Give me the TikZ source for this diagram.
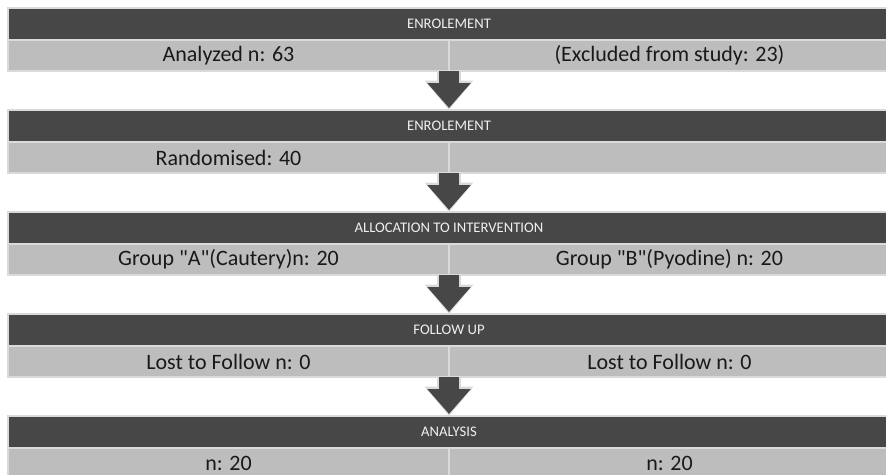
\documentclass[tikz,border=0pt]{standalone}
\usepackage{fontspec}
\setmainfont{Carlito}[Ligatures=TeXOff]
\usepackage{xcolor}
\usepackage{tikz}
\usetikzlibrary{positioning, arrows.meta}
\definecolor{escuro}{HTML}{474747}
\definecolor{claro}{HTML}{BDBDBD}
\definecolor{borda}{HTML}{DADADA}

\begin{document}
\begin{tikzpicture}[
    x=0.75pt, y=-0.75pt,
    every node/.style={outer sep=0pt, inner sep=0pt},
    node distance=52.5pt
  ]
  \tikzset{
    cabecalho/.style={fill=escuro, draw=borda, line width=1.5pt, minimum width=661.5pt, minimum height=24pt,
      text=white!94!black, font=\fontsize{11}{13}\selectfont},
    celula/.style={fill=claro, draw=borda, line width=1.5pt, minimum width=330.75pt, minimum height=23.25pt,
      text=black!90, font=\fontsize{16.5}{19}\selectfont, anchor=north west},
    brilho/.style={draw=borda, line width=18pt, -{Triangle[width=35pt, length=22pt]}},
    seta/.style={draw=escuro, line width=15pt, shorten >=1.5pt, -{Triangle[width=31.5pt, length=18.75pt]}}
  }
  \useasboundingbox (0,0) rectangle (886,475);

  % inscricao
  \node[cabecalho] (h1) at (449,24) {ENROLEMENT};
  \node[celula] (l1) at (h1.south west) {Analyzed n: 63};
  \node[celula] (r1) at (l1.north east) {(Excluded from study: 23)};

  % randomizacao
  \node[cabecalho, below=of h1.south] (h2) {ENROLEMENT};
  \node[celula] (l2) at (h2.south west) {Randomised: 40};
  \node[celula] (r2) at (l2.north east) {};

  % alocacao
  \node[cabecalho, below=of h2.south] (h3) {ALLOCATION TO INTERVENTION};
  \node[celula] (l3) at (h3.south west) {Group "A"(Cautery)n: 20};
  \node[celula] (r3) at (l3.north east) {Group "B"(Pyodine) n: 20};

  % seguimento
  \node[cabecalho, below=of h3.south] (h4) {FOLLOW UP};
  \node[celula] (l4) at (h4.south west) {Lost to Follow n: 0};
  \node[celula] (r4) at (l4.north east) {Lost to Follow n: 0};

  % analise
  \node[cabecalho, below=of h4.south] (h5) {ANALYSIS};
  \node[celula] (l5) at (h5.south west) {n: 20};
  \node[celula] (r5) at (l5.north east) {n: 20};

  % setas
  \draw[brilho] (l1.south east) -- (h2.north);
  \draw[seta] (l1.south east) -- (h2.north);
  \draw[brilho] (l2.south east) -- (h3.north);
  \draw[seta] (l2.south east) -- (h3.north);
  \draw[brilho] (l3.south east) -- (h4.north);
  \draw[seta] (l3.south east) -- (h4.north);
  \draw[brilho] (l4.south east) -- (h5.north);
  \draw[seta] (l4.south east) -- (h5.north);
\end{tikzpicture}
\end{document}
